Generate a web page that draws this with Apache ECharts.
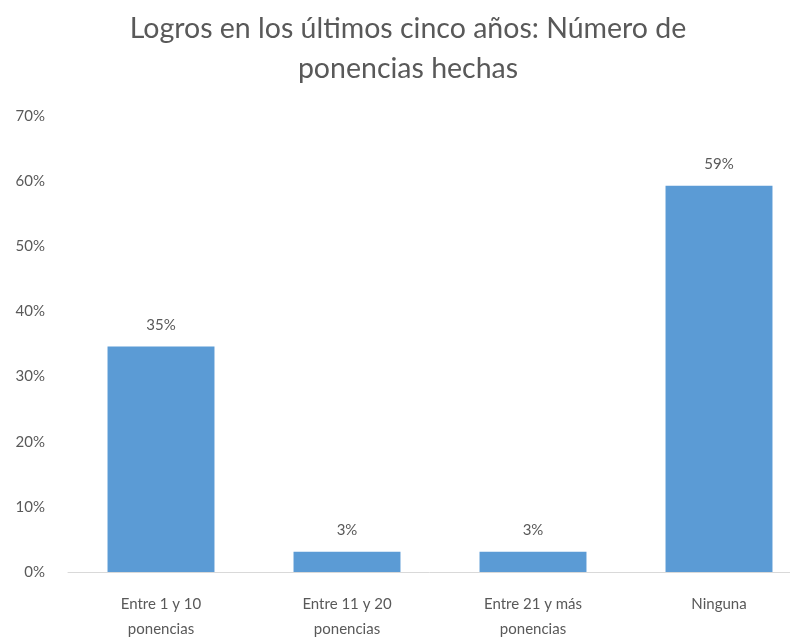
<!DOCTYPE html>
<html>
<head>
<meta charset="utf-8">
<script src="https://cdn.jsdelivr.net/npm/echarts@6/dist/echarts.min.js"></script>
<style>
  html, body { margin: 0; padding: 0; background: #ffffff; }
  #chart { width: 790px; height: 637px; }
</style>
</head>
<body>
<div id="chart"></div>
<script>
const CATEGORIES = [
  "Entre 1 y 10\nponencias",
  "Entre 11 y 20\nponencias",
  "Entre 21 y más\nponencias",
  "Ninguna",
];
const VALUES = [34.6, 3.1, 3.1, 59.3];
const VALUE_LABELS = ["35%", "3%", "3%", "59%"];

const TEXT_COLOR = "#595959";
const BAR_COLOR = "#5B9BD5";
const FONT = "Lato, 'Open Sans', sans-serif";

const chart = echarts.init(document.getElementById("chart"), null, { renderer: "canvas" });

chart.setOption({
  backgroundColor: "#ffffff",
  animation: false,
  title: {
    text: "Logros en los últimos cinco años: Número de\nponencias hechas",
    left: 403,
    textAlign: "center",
    top: 4,
    textStyle: {
      color: TEXT_COLOR,
      fontFamily: FONT,
      fontSize: 28.5,
      fontWeight: "normal",
      lineHeight: 40,
    },
  },
  grid: {
    left: 68,
    top: 116,
    width: 744,
    height: 456,
    containLabel: false,
    outerBoundsMode: "none",
  },
  xAxis: {
    type: "category",
    data: CATEGORIES,
    axisTick: { show: false },
    axisLine: { lineStyle: { color: "#d9d9d9", width: 1 } },
    axisLabel: {
      color: TEXT_COLOR,
      fontFamily: FONT,
      fontSize: 15,
      lineHeight: 25,
      margin: 20,
      interval: 0,
    },
  },
  yAxis: {
    type: "value",
    min: 0,
    max: 70,
    interval: 10,
    axisLine: { show: false },
    axisTick: { show: false },
    splitLine: { show: false },
    axisLabel: {
      color: TEXT_COLOR,
      fontFamily: FONT,
      fontSize: 15,
      margin: 23,
      formatter: (v) => `${v}%`,
    },
  },
  series: [
    {
      type: "bar",
      data: VALUES,
      barWidth: "57.5%",
      itemStyle: { color: BAR_COLOR },
      label: {
        show: true,
        position: "top",
        distance: 14,
        color: TEXT_COLOR,
        fontFamily: FONT,
        fontSize: 15,
        formatter: (p) => VALUE_LABELS[p.dataIndex],
      },
    },
  ],
});
</script>
</body>
</html>
